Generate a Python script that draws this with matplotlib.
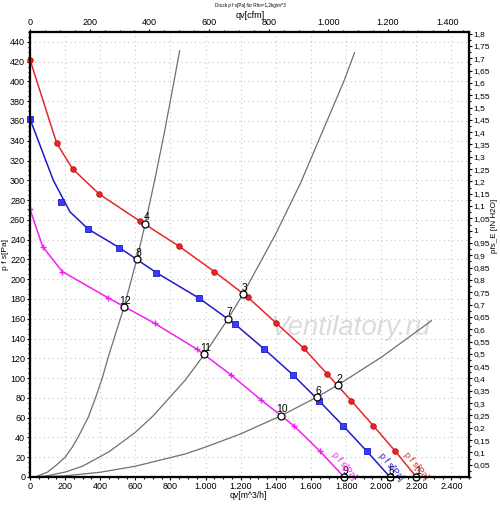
import matplotlib
matplotlib.use("Agg")
import matplotlib.pyplot as plt
from matplotlib.ticker import MultipleLocator, FuncFormatter, FixedLocator

plt.rcParams['font.family'] = ['Liberation Sans', 'DejaVu Sans']

# fan curves, markers (qv m3/h, p Pa)
q_red = [0, 152, 243, 395, 624, 846, 1050, 1240, 1403, 1559, 1692, 1829, 1955, 2079, 2200]
p_red = [422, 337.5, 311.5, 286, 259, 233.7, 207.7, 181.8, 155.5, 130.2, 104.2, 77.2, 51.9, 26.3, 0]

q_blue = [0, 175, 333, 508, 719, 964, 1166, 1335, 1498, 1645, 1784, 1917, 2050]
p_blue = [362, 278.5, 250.5, 232, 206.7, 180.7, 154.8, 129.2, 103.2, 77.2, 51.6, 26.3, 0]
# blue line passes a little above its second marker
q_blue_line = [0, 133, 228, 333, 508, 719, 964, 1166, 1335, 1498, 1645, 1784, 1917, 2050]
p_blue_line = [362, 300, 268, 250.5, 232, 206.7, 180.7, 154.8, 129.2, 103.2, 77.2, 51.6, 26.3, 0]

q_mag = [0, 72, 184, 443, 709, 951, 1145, 1316, 1502, 1650, 1788]
p_mag = [270.8, 233, 207.7, 181.4, 155.5, 129.2, 103.2, 77.9, 51.9, 26.3, 0]

# system curves
sysA_q = [29, 100, 150, 200, 240, 276, 333, 375, 413, 447, 475, 536, 608, 656, 710, 767, 820, 852]
sysA_p = [0, 5, 12, 20, 30, 41, 61, 81, 101, 122, 138, 172, 220, 256, 300, 350, 400, 431]
sysB_q = [29, 100, 200, 300, 352, 450, 599, 700, 884, 993, 1128, 1213, 1400, 1540, 1600, 1787, 1848]
sysB_p = [0, 1.3, 5, 11, 16, 25.5, 45, 61.6, 98, 124, 160, 185, 246, 297, 322, 400, 429]
sysC_q = [29, 200, 400, 600, 884, 1000, 1200, 1430, 1632, 1753, 2000, 2286]
sysC_p = [0, 1.2, 4.8, 10.9, 23.3, 30.3, 43.6, 62, 80.6, 93, 121, 158]

# operating points 1..12
op_q = [2200, 1753, 1213, 656, 2050, 1632, 1128, 608, 1788, 1430, 993, 536]
op_p = [0, 93, 185, 256, 0, 80.6, 160, 220.5, 0, 62, 124, 172]
op_labels = [str(i) for i in range(1, 13)]

RED = '#e8262a'
BLUE = '#1c1cc8'
MAG = '#f020f0'
GRAY = '#707070'

W, H = 500, 507
fig = plt.figure(figsize=(W / 100, H / 100), dpi=100)
ax = fig.add_axes([30 / W, 1 - 477 / H, 439 / W, 445 / H])

ax.set_xlim(0, 2500)
ax.set_ylim(0, 450)

ax.text(0.73, 0.335, 'Ventilatory.ru', transform=ax.transAxes, ha='center', va='center',
        fontsize=20, style='italic', color='#dcdcdc', zorder=0)

ax.grid(True, which='major', color='#c8c8c8', linestyle=(0, (1, 3)), linewidth=0.8)
ax.xaxis.set_major_locator(MultipleLocator(200))
ax.xaxis.set_minor_locator(MultipleLocator(50))
ax.yaxis.set_major_locator(MultipleLocator(20))
ax.yaxis.set_minor_locator(MultipleLocator(5))

for qs, ps in [(sysA_q, sysA_p), (sysB_q, sysB_p), (sysC_q, sysC_p)]:
    ax.plot(qs, ps, color=GRAY, linewidth=0.9, zorder=2)

ax.plot(q_red, p_red, color=RED, linewidth=1.1, zorder=3)
ax.plot(q_red, p_red, 'o', color=RED, markersize=4, markeredgecolor='#c01010',
        markeredgewidth=0.6, zorder=4, clip_on=False)
ax.plot(q_blue_line, p_blue_line, color=BLUE, linewidth=1.1, zorder=3)
ax.plot(q_blue, p_blue, 's', color='#3a3aff', markersize=4, markeredgecolor=BLUE,
        markeredgewidth=0.6, zorder=4, clip_on=False)
ax.plot(q_mag, p_mag, color=MAG, linewidth=1.1, zorder=3)
ax.plot(q_mag, p_mag, '+', color=MAG, markersize=5, markeredgewidth=1.0, zorder=4, clip_on=False)

ax.plot(op_q, op_p, 'o', markerfacecolor='white', markeredgecolor='black', markersize=5,
        markeredgewidth=0.9, zorder=5, linestyle='none', clip_on=False)
for q, p, lab in zip(op_q, op_p, op_labels):
    ax.annotate(lab, (q, p), xytext=(1, 1), textcoords='offset points', ha='center',
                va='bottom', fontsize=7.5, zorder=6)

for qc, pc, col in [(2196, 11, RED), (2054, 10, BLUE), (1786, 11, MAG)]:
    ax.text(qc, pc, 'p f s[Pa]', color=col, fontsize=6.5, rotation=-50, rotation_mode='anchor',
            ha='center', va='center', clip_on=False, zorder=6)

thousands = FuncFormatter(lambda v, _: f"{int(round(v)):,}".replace(",", "."))
ax.xaxis.set_major_formatter(thousands)
ax.tick_params(which='both', direction='out', labelsize=6.5, width=0.8, pad=1)
ax.tick_params(which='major', length=2.5)
ax.tick_params(which='minor', length=1.5)
for s in ax.spines.values():
    s.set_linewidth(1.5)

# top axis in cfm
axt = ax.twiny()
axt.set_xlim(0, 2500 / 1.699)
axt.xaxis.set_major_locator(MultipleLocator(200))
axt.xaxis.set_minor_locator(MultipleLocator(50))
axt.xaxis.set_major_formatter(thousands)
axt.tick_params(which='both', direction='out', labelsize=6.5, width=0.8, pad=0.8)
axt.tick_params(which='major', length=2.5)
axt.tick_params(which='minor', length=1.5)

# right axis in inch H2O
axr = ax.twinx()
axr.set_ylim(0, 450 / 249.0889)
axr.yaxis.set_major_locator(FixedLocator([i * 0.05 for i in range(1, 37)]))
axr.yaxis.set_minor_locator(MultipleLocator(0.025))
axr.yaxis.set_major_formatter(FuncFormatter(
    lambda v, _: f"{v:.2f}".rstrip('0').rstrip('.').replace('.', ',')))
axr.tick_params(which='both', direction='out', labelsize=6.0, width=0.8, pad=0.6)
axr.tick_params(which='major', length=2.5)
axr.tick_params(which='minor', length=1.5)
for a in (axt, axr):
    for s in a.spines.values():
        s.set_linewidth(1.5)

fig.text(250 / W, 1 - 5.5 / H, 'Druck p f s[Pa] für Rho=1,2kg/m^3', ha='center', va='center', fontsize=3.3)
fig.text(250 / W, 1 - 15 / H, 'qv[cfm]', ha='center', va='center', fontsize=6.5)
fig.text(248 / W, 1 - 495 / H, 'qv[m^3/h]', ha='center', va='center', fontsize=6.2)
fig.text(5.5 / W, 1 - 254 / H, 'p f s[Pa]', ha='center', va='center', fontsize=6, rotation=90)
fig.text(494.5 / W, 1 - 226 / H, 'pfs_E [IN H2O]', ha='center', va='center', fontsize=5.8, rotation=90)

fig.savefig('out.png', dpi=100)
